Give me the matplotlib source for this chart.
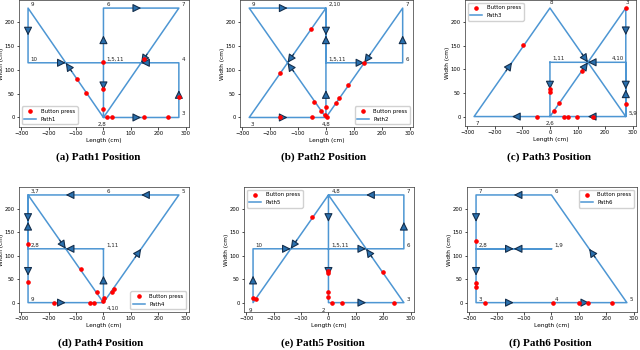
import numpy as np
import matplotlib
matplotlib.use('Agg')
from matplotlib import pyplot as plt

# waypoints of every path (point n is index n-1), in cm
path1_x = [0, 0, 275, 275, 0, 0, 275, 0, -275, -275, 0]
path1_y = [115, 0, 0, 115, 115, 230, 230, 0, 230, 115, 115]
path2_x = [0, 0, -275, 0, 0, 275, 275, 0, -275, 0, 0]
path2_y = [115, 230, 0, 0, 115, 115, 230, 0, 230, 230, 115]
path3_x = [0, 0, 275, 275, 275, 0, -275, 0, 275, 275, 0]
path3_y = [115, 0, 230, 115, 0, 0, 0, 230, 0, 115, 115]
path4_x = [0, -275, -275, 0, 275, 0, -275, -275, -275, 0, 0]
path4_y = [115, 115, 230, 0, 230, 230, 230, 115, 0, 0, 115]
path5_x = [0, 0, 275, 0, 0, 275, 275, 0, -275, -275, 0]
path5_y = [115, 0, 0, 230, 115, 115, 230, 230, 0, 115, 115]
path6_x = [0, -275, -275, 0, 275, 0, -275, -275, 0]
path6_y = [115, 115, 0, 0, 0, 230, 230, 115, 115]

# button presses
press1_x = [0, 147, -97, -62, 0, 0, 12, 31, 147, 235, 277]
press1_y = [117, 122, 80, 52, 59, 18, 0, 0, 0, 0, 43]
press2_x = [-54, -166, -42, -19, -5, 0, 2, -166, -50, 36, 48, 80, 135]
press2_y = [187, 94, 33, 14, 5, 22, 0, 0, 0, 31, 41, 69, 114]
press3_x = [-97, 277, 0, 0, 115, 33, 15, -46, 51, 65, 97, 157, 275]
press3_y = [151, 231, 58, 53, 96, 28, 12, 0, 0, 0, 0, 0, 27]
press4_x = [-275, -275, -81, -24, 2, 30, 38, -180, -49, -35, 0]
press4_y = [125, 45, 72, 23, 10, 23, 29, 0, 0, 0, 3]
press5_x = [-59, -276, -264, 0, 0, 0, 0, 12, 48, 239, 199]
press5_y = [182, 9, 8, 68, 64, 23, 11, 0, 0, 0, 66]
press6_x = [-275, -275, -275, -241, 5, 101, 132, 219]
press6_y = [131, 43, 34, 0, 0, 0, 0, 0]

paths = [(path1_x, path1_y, press1_x, press1_y),
         (path2_x, path2_y, press2_x, press2_y),
         (path3_x, path3_y, press3_x, press3_y),
         (path4_x, path4_y, press4_x, press4_y),
         (path5_x, path5_y, press5_x, press5_y),
         (path6_x, path6_y, press6_x, press6_y)]
captions = ['(a) Path1 Position', '(b) Path2 Position', '(c) Path3 Position',
            '(d) Path4 Position', '(e) Path5 Position', '(f) Path6 Position']
legend_loc = ['lower left', 'lower right', 'upper left',
              'lower right', 'upper left', 'upper right']

# axes boxes in pixels: left, right, top, bottom
boxes = [(19, 189, 0, 127), (240, 413, 0, 127), (465, 636, 0, 126),
         (19, 189, 187, 312), (244, 414, 187, 312), (467, 637, 187, 312)]
cap_pos = [(98, 157), (324, 157), (549, 157), (101, 343), (323, 343), (550, 343)]

# label offsets (points) that differ from the default
label_off = [
    {'2,8': (-1, -6, 'center')},
    {'3': (1, -6, 'left'), '4,8': (0, -6, 'center')},
    {'8': (0, 3, 'left'), '3': (0, 3, 'left'), '7': (1, -6, 'left'),
     '4,10': (-1, 2, 'right'), '2,6': (0, -6, 'center')},
    {'4,10': (2, -5, 'left')},
    {'9': (-3, -7, 'left'), '2': (-5, -7, 'left')},
    {},
]

W, H = 640, 350
line_col = '#4d96d3'
fig = plt.figure(figsize=(6.4, 3.5), dpi=100)

for i, (px, py, bx, by) in enumerate(paths):
    l, r, t, b = boxes[i]
    ax = fig.add_axes([l / W, 1 - b / H, (r - l) / W, (b - t) / H])
    ax.plot(bx, by, 'o', color='red', markersize=2.3, label='Button press', zorder=4)
    ax.plot(px, py, color=line_col, lw=1.1, label='Path%d' % (i + 1), zorder=2)
    ax.set_xlim(-308, 312)
    ax.set_ylim(-20, 247)

    # arrow heads end at the middle of each segment
    for k in range(len(px) - 1):
        mx = (px[k] + px[k + 1]) / 2
        my = (py[k] + py[k + 1]) / 2
        dx = (px[k + 1] - px[k]) * 0.08
        dy = (py[k + 1] - py[k]) * 0.08
        ax.annotate('', xy=(mx, my), xytext=(mx - dx, my - dy),
                    arrowprops=dict(arrowstyle='-|>,head_length=1.0,head_width=0.5',
                                    mutation_scale=5, fc='#2a70ae', ec='#142f4d',
                                    lw=0.8, shrinkA=0, shrinkB=0),
                    zorder=3)

    # point numbers, grouped by position
    groups = {}
    for k, (x, y) in enumerate(zip(px, py)):
        groups.setdefault((x, y), []).append(str(k + 1))
    for (x, y), nums in groups.items():
        txt = ','.join(nums)
        ox, oy, ha = label_off[i].get(txt, (2, 1.5, 'left'))
        ax.annotate(txt, (x, y), xytext=(ox, oy), textcoords='offset points',
                    fontsize=4.0, ha=ha, color='#222222', zorder=5)

    ax.set_xticks([-300, -200, -100, 0, 100, 200, 300])
    ax.set_yticks([0, 50, 100, 150, 200])
    ax.tick_params(labelsize=3.8, length=1.8, width=0.5, pad=1.2)
    ax.set_xlabel('Length (cm)', fontsize=4.2, labelpad=1)
    ax.set_ylabel('Width (cm)', fontsize=4.2, labelpad=0.5)
    for s in ax.spines.values():
        s.set_linewidth(0.5)
        s.set_color('#333333')
    ax.legend(loc=legend_loc[i], fontsize=3.9, markerscale=1.0, handlelength=2.2,
              borderpad=0.5, labelspacing=0.45, framealpha=0.9, edgecolor='#cccccc')

    cx, cy = cap_pos[i]
    fig.text(cx / W, 1 - cy / H, captions[i], ha='center', va='center',
             fontsize=8, fontweight='bold', family='Liberation Serif')

fig.savefig('out.png', dpi=100)
